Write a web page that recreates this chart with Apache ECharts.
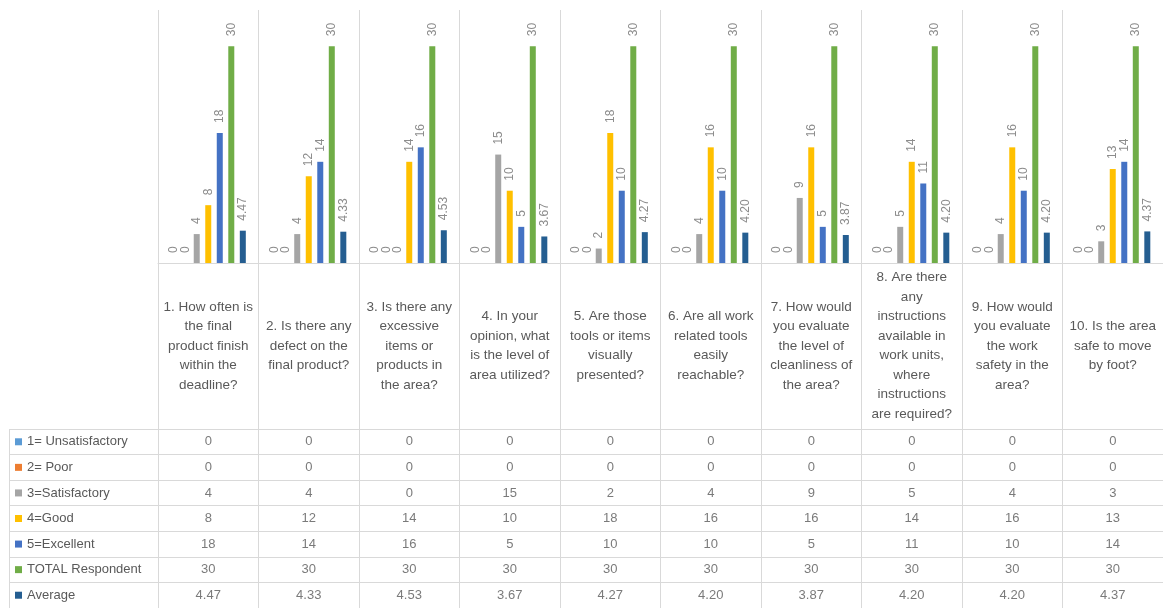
<!DOCTYPE html>
<html><head><meta charset="utf-8">
<script src="https://cdn.jsdelivr.net/npm/echarts@6/dist/echarts.min.js"></script>
<style>html,body{margin:0;padding:0;background:#fff}#c{width:1163px;height:608px}</style>
</head><body><div id="c"></div>
<script>
const questions = [
  '1. How often is\nthe final\nproduct finish\nwithin the\ndeadline?',
  '2. Is there any\ndefect on the\nfinal product?',
  '3. Is there any\nexcessive\nitems or\nproducts in\nthe area?',
  '4. In your\nopinion, what\nis the level of\narea utilized?',
  '5. Are those\ntools or items\nvisually\npresented?',
  '6. Are all work\nrelated tools\neasily\nreachable?',
  '7. How would\nyou evaluate\nthe level of\ncleanliness of\nthe area?',
  '8. Are there\nany\ninstructions\navailable in\nwork units,\nwhere\ninstructions\nare required?',
  '9. How would\nyou evaluate\nthe work\nsafety in the\narea?',
  '10. Is the area\nsafe to move\nby foot?'
];
const seriesNames = ['1= Unsatisfactory','2= Poor','3=Satisfactory','4=Good','5=Excellent','TOTAL Respondent','Average'];
const unsatisfactory = [0,0,0,0,0,0,0,0,0,0];
const poor = [0,0,0,0,0,0,0,0,0,0];
const satisfactory = [4,4,0,15,2,4,9,5,4,3];
const good = [8,12,14,10,18,16,16,14,16,13];
const excellent = [18,14,16,5,10,10,5,11,10,14];
const totalRespondent = [30,30,30,30,30,30,30,30,30,30];
const average = [4.47,4.33,4.53,3.67,4.27,4.20,3.87,4.20,4.20,4.37];

const colors = ['#5b9bd5','#ed7d31','#a5a5a5','#ffc000','#4472c4','#70ad47','#255e91'];
const allSeries = [unsatisfactory, poor, satisfactory, good, excellent, totalRespondent, average];
const fmt = (si, v) => si === 6 ? Number(v).toFixed(2) : String(v);
const FONT = '"Liberation Sans", Arial, sans-serif';
const GRID = '#d9d9d9';
const TXT = '#595959';

const barSeries = allSeries.map((arr, si) => ({
  type: 'bar', name: seriesNames[si], data: arr,
  xAxisIndex: 0, yAxisIndex: 0,
  barWidth: 6, barGap: '92%',
  itemStyle: { color: colors[si] },
  label: {
    show: true, position: 'top', rotate: 90, align: 'left', verticalAlign: 'middle',
    distance: 10, color: '#8c8c8c', fontSize: 12, fontFamily: FONT,
    formatter: p => fmt(si, p.value)
  },
  animation: false
}));

const cells = [];
allSeries.forEach((arr, si) => arr.forEach((v, ci) => cells.push([ci, si, v])));

const rich = { t: { color: TXT, fontSize: 13, fontFamily: FONT, padding: [0,0,0,5] } };
colors.forEach((c, i) => rich['s' + i] = { width: 7, height: 7, backgroundColor: c });

const option = {
  animation: false,
  backgroundColor: '#fff',
  grid: [
    { left: 158, right: 0, top: 10, height: 253 },
    { left: 158, right: 0, top: 429, height: 182 }
  ],
  graphic: [
    { type: 'line', shape: { x1: 9.5, y1: 429, x2: 9.5, y2: 608 }, style: { stroke: GRID, lineWidth: 1 }, silent: true }
  ],
  xAxis: [
    { type: 'category', gridIndex: 0, data: questions,
      axisLine: { show: true, lineStyle: { color: GRID } },
      axisTick: { show: true, length: 166, interval: 0, lineStyle: { color: GRID } },
      splitLine: { show: true, interval: 0, lineStyle: { color: GRID } },
      axisLabel: { interval: 0, margin: 83, verticalAlign: 'middle', lineHeight: 19.5,
        color: TXT, fontSize: 13.5, fontFamily: FONT } },
    { type: 'category', gridIndex: 1, data: questions, position: 'top',
      axisLine: { show: true, lineStyle: { color: GRID } },
      axisTick: { show: false }, axisLabel: { show: false },
      splitLine: { show: true, interval: 0, lineStyle: { color: GRID } } }
  ],
  yAxis: [
    { type: 'value', gridIndex: 0, min: 0, max: 35, show: false },
    { type: 'category', gridIndex: 1, data: seriesNames, inverse: true,
      axisLine: { show: true, lineStyle: { color: GRID } },
      axisTick: { show: true, length: 149, interval: 0, lineStyle: { color: GRID } },
      splitLine: { show: true, interval: 0, lineStyle: { color: GRID } },
      axisLabel: { interval: 0, margin: 143, align: 'left',
        formatter: (v, i) => '{s' + i + '|}{t|' + v + '}', rich: rich } }
  ],
  series: barSeries.concat([{
    type: 'scatter', xAxisIndex: 1, yAxisIndex: 1, data: cells,
    symbolSize: 1, itemStyle: { color: 'rgba(0,0,0,0)' }, silent: true,
    label: { show: true, position: 'inside', color: TXT, fontSize: 13, fontFamily: FONT,
      formatter: p => fmt(p.value[1], p.value[2]) }
  }])
};
const chart = echarts.init(document.getElementById('c'), null, { renderer: 'canvas' });
chart.setOption(option);
</script></body></html>
